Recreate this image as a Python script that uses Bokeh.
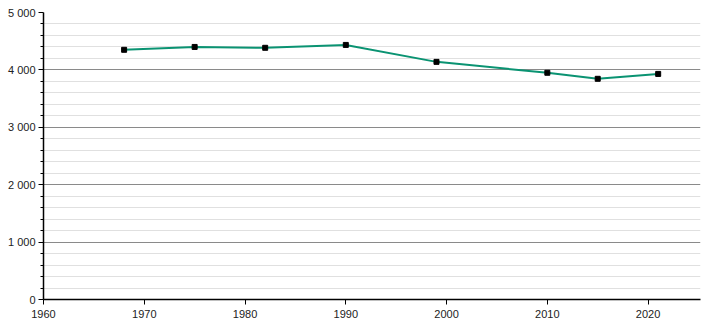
from bokeh.plotting import figure
from bokeh.models import FixedTicker, Range1d, CustomJSTickFormatter
from bokeh.embed import file_html
from bokeh.resources import INLINE

years = [1968, 1975, 1982, 1990, 1999, 2010, 2015, 2021]
population = [4350, 4400, 4385, 4435, 4140, 3950, 3845, 3930]
x_ticks = [1960, 1970, 1980, 1990, 2000, 2010, 2020]
y_ticks = [0, 1000, 2000, 3000, 4000, 5000]
y_minor = [v for v in range(0, 5001, 200) if v % 1000 != 0]

p = figure(width=710, height=320, output_backend="svg", toolbar_location=None,
           x_range=Range1d(1960, 2025.2), y_range=Range1d(0, 5000),
           min_border_left=43, min_border_right=10, min_border_top=12, min_border_bottom=20)
p.outline_line_color = None
p.background_fill_color = "white"
p.border_fill_color = "white"

# grids
p.xgrid.visible = False
p.ygrid.ticker = FixedTicker(ticks=y_ticks, minor_ticks=y_minor)
p.ygrid.grid_line_color = "#8a8a8a"
p.ygrid.grid_line_width = 1
p.ygrid.minor_grid_line_color = "#e0e0e0"
p.ygrid.minor_grid_line_width = 1

# axes
font = "Liberation Sans"
p.xaxis.ticker = FixedTicker(ticks=x_ticks)
p.yaxis.ticker = FixedTicker(ticks=y_ticks, minor_ticks=y_minor)
p.yaxis.formatter = CustomJSTickFormatter(code="""
return tick.toFixed(0).replace(/\\B(?=(\\d{3})+(?!\\d))/g, "\\u00a0");
""")
for ax in (p.xaxis[0], p.yaxis[0]):
    ax.axis_line_color = "black"
    ax.axis_line_width = 1.5
    ax.major_tick_line_color = "black"
    ax.major_tick_in = 0
    ax.major_tick_out = 5
    ax.major_label_text_font = font
    ax.major_label_text_font_size = "11px"
    ax.major_label_text_color = "#222222"
p.yaxis.major_label_standoff = 3
p.xaxis.major_label_standoff = 5
p.xaxis.minor_tick_line_color = None
p.yaxis.minor_tick_line_color = "black"
p.yaxis.minor_tick_in = 0
p.yaxis.minor_tick_out = 3

p.line(years, population, line_color="#0a9372", line_width=2)
p.scatter(years, population, marker="square", size=5, fill_color="black", line_color="black")

open("out.html", "w").write(file_html(p, INLINE))
